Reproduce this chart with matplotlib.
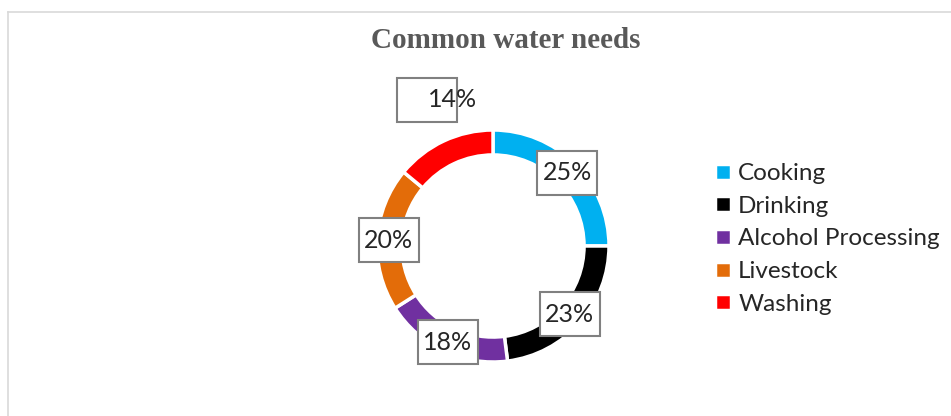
import matplotlib.pyplot as plt
from matplotlib.patches import Rectangle

labels = ['Cooking', 'Drinking', 'Alcohol Processing', 'Livestock', 'Washing']
shares = [25, 23, 18, 20, 14]
colors = ['#00B0F0', '#000000', '#7030A0', '#E36C09', '#FF0000']

# where the value boxes sit (data units, radius 1)
box_pos = [(0.64, 0.63), (0.66, -0.59), (-0.39, -0.83), (-0.90, 0.05), (-0.57, 1.26)]
text_pos = [(0.64, 0.63), (0.66, -0.59), (-0.39, -0.83), (-0.90, 0.05), (-0.35, 1.26)]

W, H = 951, 416
fig = plt.figure(figsize=(W / 100, H / 100), dpi=100)

# light frame of the chart area
fig.add_artist(plt.Line2D([8 / W, 1], [1 - 12 / H, 1 - 12 / H], color='#d9d9d9', lw=1.2))
fig.add_artist(plt.Line2D([8 / W, 8 / W], [0, 1 - 12 / H], color='#d9d9d9', lw=1.2))

R = 116
L = 1.4
S = 2 * L * R
cx, cy = 493, H - 246
ax = fig.add_axes([(cx - S / 2) / W, (cy - S / 2) / H, S / W, S / H])

wedges, _ = ax.pie(shares, colors=colors, startangle=90, counterclock=False,
                   wedgeprops=dict(width=0.215, edgecolor='white', linewidth=2.5))
ax.set_xlim(-L, L)
ax.set_ylim(-L, L)
ax.set_aspect('equal')

font = 'Lato'
bw, bh = 60 / R, 44 / R
for s, (bx, by), (tx, ty) in zip(shares, box_pos, text_pos):
    ax.add_patch(Rectangle((bx - bw / 2, by - bh / 2), bw, bh, facecolor='white',
                           edgecolor='#808080', lw=1.5, zorder=3, clip_on=False))
    ax.text(tx, ty, f'{s}%', ha='center', va='center', fontsize=18,
            family=font, color='#262626', zorder=4, clip_on=False)

fig.text(506 / W, 1 - 40 / H, 'Common water needs', ha='center', va='center',
         fontsize=21, fontweight='bold', family='Liberation Serif', color='#595959')

fig.legend(wedges, labels, loc='upper left', bbox_to_anchor=(703 / W, 1 - 151 / H),
           frameon=False, prop={'family': font, 'size': 17.5},
           handlelength=0.65, handleheight=0.65, handletextpad=0.3,
           labelspacing=0.48, borderpad=0, labelcolor='#262626')

fig.savefig('out.png', dpi=100)
